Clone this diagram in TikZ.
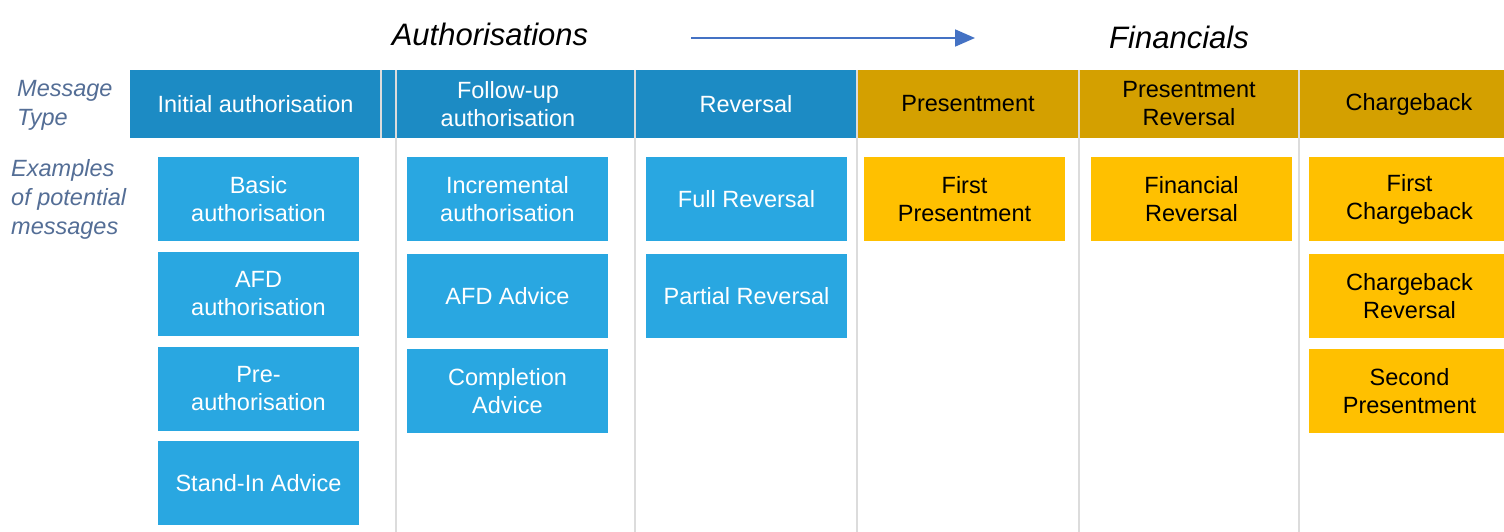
\documentclass[tikz,border=0pt]{standalone}
\usepackage{fontspec}
\setmainfont{Liberation Sans}
\usetikzlibrary{arrows.meta}
\definecolor{hblue}{RGB}{28,139,196}
\definecolor{bblue}{RGB}{41,167,225}
\definecolor{hgold}{RGB}{212,160,0}
\definecolor{bgold}{RGB}{255,192,0}
\definecolor{sepgray}{RGB}{220,220,220}
\definecolor{lblcol}{RGB}{84,110,150}
\definecolor{arrcol}{RGB}{68,114,196}
\begin{document}
\begin{tikzpicture}[x=1pt,y=-1pt,
  every node/.style={font=\fontsize{23.5}{28}\selectfont, inner sep=0pt, align=center},
  hdrb/.style={minimum height=68pt, fill=hblue, text=white},
  hdrg/.style={minimum height=68pt, fill=hgold, text=black},
  boxb/.style={minimum width=201pt, minimum height=84pt, fill=bblue, text=white},
  boxg/.style={minimum width=201pt, minimum height=84pt, fill=bgold, text=black},
  sideLbl/.style={font=\fontsize{23.5}{29}\selectfont\itshape, text=lblcol, align=left, anchor=west},
  title/.style={font=\fontsize{31}{36}\selectfont\itshape, text=black},
  sepline/.style={draw=sepgray, line width=1.5pt}]
\clip (0,0) rectangle (1504,532);
\fill[white] (0,0) rectangle (1504,532);

% titles and arrow
\node[title] (tA) at (490,34) {Authorisations};
\node[title] (tF) at (1179,37) {Financials};
\coordinate (aS) at (691,38);
\coordinate (aE) at (975,38);
\draw[arrcol, line width=1.8pt, -{Triangle[length=20pt,width=17pt]}] (aS) -- (aE);

% row labels
\node[sideLbl] (lMT) at (17,105) {Message\\Type};
\node[sideLbl] (lEx) at (11,199) {Examples\\of potential\\messages};

% header bar
\node[hdrb, minimum width=251pt] (h1) at (255.5,104) {Initial authorisation};
\node[hdrb, minimum width=254pt] (h2) at (508,104) {Follow-up\\authorisation};
\node[hdrb, minimum width=222pt] (h3) at (746,104) {Reversal};
\node[hdrg, minimum width=222pt] (h4) at (968,104) {Presentment};
\node[hdrg, minimum width=220pt] (h5) at (1189,104) {Presentment\\Reversal};
\node[hdrg, minimum width=220pt] (h6) at (1409,104) {Chargeback};

% column 1
\node[boxb] (c1a) at (258.5,199) {Basic\\authorisation};
\node[boxb] (c1b) at (258.5,294) {AFD\\authorisation};
\node[boxb] (c1c) at (258.5,388.5) {Pre-\\authorisation};
\node[boxb] (c1d) at (258.5,483) {Stand-In Advice};
% column 2
\node[boxb] (c2a) at (507.5,199) {Incremental\\authorisation};
\node[boxb] (c2b) at (507.5,296) {AFD Advice};
\node[boxb] (c2c) at (507.5,391) {Completion\\Advice};
% column 3
\node[boxb] (c3a) at (746.5,199) {Full Reversal};
\node[boxb] (c3b) at (746.5,296) {Partial Reversal};
% column 4
\node[boxg] (c4a) at (964.5,199) {First\\Presentment};
% column 5
\node[boxg] (c5a) at (1191.5,199) {Financial\\Reversal};
% column 6
\node[boxg] (c6a) at (1409.5,199) {First\\Chargeback};
\node[boxg] (c6b) at (1409.5,296) {Chargeback\\Reversal};
\node[boxg] (c6c) at (1409.5,391) {Second\\Presentment};

% separator lines
\draw[sepline] (381,70) -- (381,138);
\foreach \xx in {396,635,857,1079,1299} {
  \draw[sepline] (\xx,70) -- (\xx,532);
}
\end{tikzpicture}
\end{document}
